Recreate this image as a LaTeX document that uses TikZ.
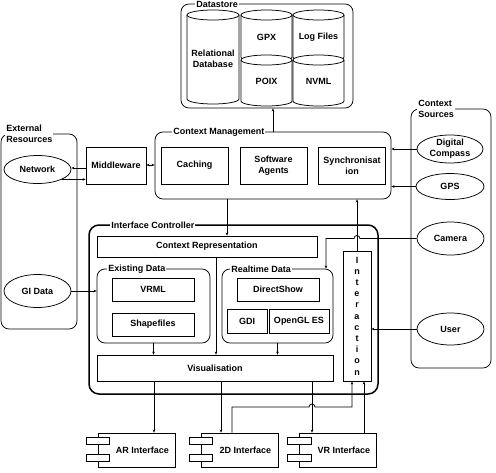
\documentclass[tikz,border=0pt]{standalone}
\usepackage{fontspec}
\setmainfont{Liberation Sans}
\usetikzlibrary{shapes.geometric,arrows.meta}
\newcommand{\drawdbcyl}[4]{%
  \draw[fill=white] (#1,-#3-5) -- (#1,-#4+5)
    arc[start angle=180,end angle=360,x radius={(#2-#1)/2},y radius=5]
    -- (#2,-#3-5)
    arc[start angle=0,end angle=180,x radius={(#2-#1)/2},y radius=5] -- cycle;
  \draw (#1,-#3-5) arc[start angle=180,end angle=360,x radius={(#2-#1)/2},y radius=5];
}
\begin{document}
\begin{tikzpicture}[x=1pt,y=1pt,
  font=\fontsize{9}{11}\selectfont\bfseries,
  line width=0.75pt,
  box/.style={draw, fill=white, inner sep=0pt, align=center},
  grp/.style={draw, rounded corners=8pt, inner sep=0pt},
  glabel/.style={fill=white, inner sep=1pt, anchor=west, align=left},
  ell/.style={draw, ellipse, inner sep=0pt},
  txt/.style={align=center, inner sep=0pt},
  arr/.style={-{Stealth[length=3pt,width=2.6pt]}},
  darr/.style={{Stealth[length=3pt,width=2.6pt]}-{Stealth[length=3pt,width=2.6pt]}},
]
\useasboundingbox (0,0) rectangle (496,-472);

% ---------- Datastore ----------
\node[grp, minimum width=172pt, minimum height=104pt] (ds) at (267,-56) {};
\node[glabel] (dslab) at (195,-4) {Datastore};
\drawdbcyl{187}{239}{10}{104}
\node[txt] (rdb) at (213,-59) {Relational\\Database};
\drawdbcyl{241}{292}{10}{62}
\node[txt] (gpx) at (266.5,-37) {GPX};
\drawdbcyl{241}{292}{55}{106}
\node[txt] (poix) at (266.5,-81) {POIX};
\drawdbcyl{293}{344}{10}{62}
\node[txt] (logf) at (318.5,-37) {Log Files};
\drawdbcyl{293}{344}{55}{106}
\node[txt] (nvml) at (318.5,-81) {NVML};

% ---------- External Resources ----------
\node[grp, minimum width=76pt, minimum height=195pt] (ext) at (39,-231.5) {};
\node[glabel] (extlab) at (5,-133.5) {External\\Resources};
\node[ell, minimum width=67pt, minimum height=28pt] (net) at (37.5,-169.5) {};
\node[txt] at (net) {Network};
\node[ell, minimum width=67pt, minimum height=33pt] (gi) at (37.5,-291) {};
\node[txt] at (gi) {GI Data};

% ---------- Middleware ----------
\node[box, minimum width=60pt, minimum height=37pt] (mw) at (116,-165.5) {Middleware};

% ---------- Context Management ----------
\node[grp, minimum width=236pt, minimum height=67pt] (cm) at (273,-165.5) {};
\node[glabel] (cmlab) at (172,-132) {Context Management};
\node[box, minimum width=67pt, minimum height=37pt] (cach) at (194.5,-165.5) {Caching};
\node[box, minimum width=67pt, minimum height=37pt] (swa) at (273.5,-165.5) {Software\\Agents};
\node[box, minimum width=67pt, minimum height=37pt] (sync) at (352,-165.5) {Synchronisat\\ion};

% ---------- Context Sources ----------
\node[grp, minimum width=80pt, minimum height=259pt] (src) at (451,-238.5) {};
\node[glabel] (srclab) at (417,-108.5) {Context\\Sources};
\node[ell, minimum width=66pt, minimum height=28pt] (dc) at (450,-149) {};
\node[txt] at (dc) {Digital\\Compass};
\node[ell, minimum width=68pt, minimum height=26pt] (gps) at (450,-186.5) {};
\node[txt] at (gps) {GPS};
\node[ell, minimum width=67pt, minimum height=33pt] (cam) at (450.5,-238.5) {};
\node[txt] at (cam) {Camera};
\node[ell, minimum width=67pt, minimum height=32pt] (user) at (450.5,-329) {};
\node[txt] at (user) {User};

% ---------- Interface Controller ----------
\node[draw, rounded corners=10pt, line width=1.5pt, inner sep=0pt,
      minimum width=289pt, minimum height=169pt] (ic) at (233.5,-309.5) {};
\node[glabel] (iclab) at (110,-225) {Interface Controller};
\node[box, minimum width=220pt, minimum height=21pt] (ctxrep) at (207,-246.5) {Context Representation};

\node[grp, minimum width=113pt, minimum height=74pt] (exd) at (153.5,-306) {};
\node[glabel] (exdlab) at (107,-269) {Existing Data};
\node[box, minimum width=82pt, minimum height=23pt] (vrml) at (153,-289.5) {VRML};
\node[box, minimum width=82pt, minimum height=23pt] (shp) at (153,-324.5) {Shapefiles};

\node[grp, minimum width=111pt, minimum height=74pt] (rtd) at (277.5,-306) {};
\node[glabel] (rtdlab) at (230,-269) {Realtime Data};
\node[box, minimum width=82pt, minimum height=23pt] (dsh) at (278,-289.5) {DirectShow};
\node[box, minimum width=40pt, minimum height=24pt] (gdi) at (247,-321) {GDI};
\node[box, minimum width=60pt, minimum height=24pt] (ogl) at (299,-321) {OpenGL ES};

\node[box, minimum width=236pt, minimum height=26pt] (vis) at (215,-368) {Visualisation};

\node[box, minimum width=28pt, minimum height=130pt,
      font=\fontsize{9}{11.2}\selectfont\bfseries] (inter) at (357,-316)
      {I\\n\\t\\e\\r\\a\\c\\t\\i\\o\\n};

% ---------- Interfaces ----------
\foreach \nm/\cx/\lab in {ar/136.5/AR Interface, tw/239.5/2D Interface, vr/338/VR Interface}{
  \node[box, minimum width=77pt, minimum height=34pt] (\nm) at (\cx,-450) {};
  \node[txt] at ([xshift=6pt]\nm.center) {\lab};
  \draw[fill=white] ([xshift=-11.5pt,yshift=-5pt]\nm.north west) rectangle ([xshift=12pt,yshift=-12pt]\nm.north west);
  \draw[fill=white] ([xshift=-11.5pt,yshift=-22pt]\nm.north west) rectangle ([xshift=12pt,yshift=-29pt]\nm.north west);
}

% ---------- Connectors ----------
\draw[arr] (273,0 |- cm.north) -- (273,0 |- ds.south);
\draw[arr] (mw.west |- 0,-168) -- (net.east |- 0,-168);
\draw[arr] (net.-22) -- (net.-22 -| mw.west);
\draw[darr] (mw.east |- 0,-165) -- (cm.west |- 0,-165);
\draw[arr] (dc.west) -- (dc.west -| cm.east);
\draw[arr] (gps.west) -- (gps.west -| cm.east);
\draw[arr] (227,0 |- cm.south) -- (227,0 |- ctxrep.north);
\draw[arr] (inter.north) -- (inter.north |- cm.south);
\draw[arr] (cam.west) -- (360,-238.5) arc[start angle=0,end angle=180,radius=3]
  -- (326,-238.5) -- (326,0 |- rtd.north);
\draw[arr] (user.west) -- (user.west -| inter.east);
\draw[arr] (gi.east) -- (gi.east -| exd.west);
\draw[arr] (exd.south) -- (exd.south |- vis.north);
\draw[arr] (216,0 |- ctxrep.south) -- (216,0 |- vis.north);
\draw[arr] (rtd.south) -- (rtd.south |- vis.north);
\draw[arr] (154,0 |- vis.south) -- (154,0 |- ar.north);
\draw[arr] (221,0 |- vis.south) -- (221,0 |- tw.north);
\draw[arr] (312,0 |- vis.south) -- (312,0 |- vr.north);
\draw[arr] (232,0 |- tw.north) -- (232,-407) -- (309,-407)
  arc[start angle=180,end angle=0,radius=3] -- (352,-407) -- (352,0 |- inter.south);
\draw[arr] (364,0 |- vr.north) -- (364,0 |- inter.south);
\end{tikzpicture}
\end{document}
